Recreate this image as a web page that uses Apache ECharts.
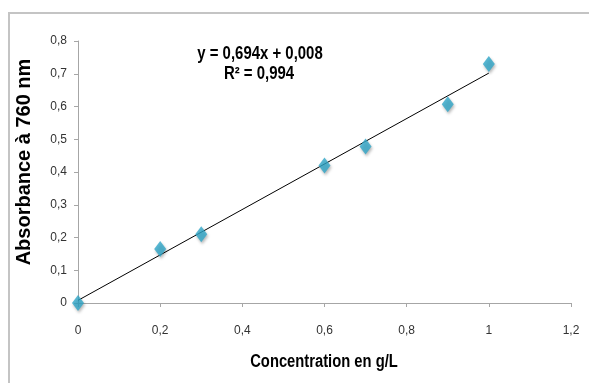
<!DOCTYPE html>
<html><head><meta charset="utf-8">
<script src="https://cdn.jsdelivr.net/npm/echarts@6/dist/echarts.min.js"></script>
<style>html,body{margin:0;padding:0;background:#fff}#c{width:589px;height:383px}</style>
</head><body><div id="c"></div>
<script>
const concentration = [0, 0.2, 0.3, 0.6, 0.7, 0.9, 1.0];
const absorbance = [0, 0.165, 0.21, 0.42, 0.478, 0.607, 0.73];
const trendX = [0, 1];
const trendY = [0.008, 0.702];
const equationText = 'y = 0,694x + 0,008';
const r2Text = 'R² = 0,994';
const xTitle = 'Concentration en g/L';
const yTitle = 'Absorbance à 760 nm';

const sans = '"Liberation Sans", Arial, sans-serif';
const fmt = v => String(Math.round(v * 10) / 10).replace('.', ',');

function label(text, x, y, size, sx, rot) {
  return {
    type: 'text', x: x, y: y, scaleX: sx, rotation: rot || 0, z: 50,
    style: {x: 0, y: 0, text: text, font: 'bold ' + size + 'px ' + sans, fill: '#000',
            align: 'center', verticalAlign: 'middle'}
  };
}

const chart = echarts.init(document.getElementById('c'), null, {renderer: 'canvas'});
chart.setOption({
  animation: false,
  backgroundColor: '#fff',
  grid: {left: 78, right: 18, top: 41, bottom: 80},
  xAxis: {
    type: 'value', min: 0, max: 1.2, interval: 0.2,
    axisLine: {show: true, lineStyle: {color: '#a6a6a6', width: 1}},
    axisTick: {show: true, length: 4, lineStyle: {color: '#a6a6a6'}},
    axisLabel: {formatter: fmt, margin: 22, fontFamily: sans, fontSize: 12, color: '#333'},
    splitLine: {show: false}
  },
  yAxis: {
    type: 'value', min: 0, max: 0.8, interval: 0.1,
    axisLine: {show: true, lineStyle: {color: '#a6a6a6', width: 1}},
    axisTick: {show: true, length: 4, lineStyle: {color: '#a6a6a6'}},
    axisLabel: {formatter: fmt, margin: 11, fontFamily: sans, fontSize: 12, color: '#333'},
    splitLine: {show: false}
  },
  graphic: [
    {type: 'rect', shape: {x: 9, y: 13, width: 700, height: 500},
     style: {fill: 'none', stroke: '#c4c4c4', lineWidth: 2}, z: 100},
    label(equationText, 260, 54, 18, 0.83),
    label(r2Text, 259, 74, 18, 0.83),
    label(xTitle, 324, 362, 18, 0.82),
    label(yTitle, 24, 162, 20, 1, Math.PI / 2)
  ],
  series: [
    {
      type: 'line', data: trendX.map((x, i) => [x, trendY[i]]),
      symbol: 'none', lineStyle: {color: '#000', width: 1}, z: 3, silent: true
    },
    {
      type: 'scatter', data: concentration.map((x, i) => [x, absorbance[i]]),
      symbol: 'diamond', symbolSize: [12, 16],
      itemStyle: {color: '#2fa6c8', shadowColor: 'rgba(0,0,0,0.35)', shadowBlur: 3, shadowOffsetX: 1, shadowOffsetY: 2},
      z: 4
    }
  ]
});
</script></body></html>
